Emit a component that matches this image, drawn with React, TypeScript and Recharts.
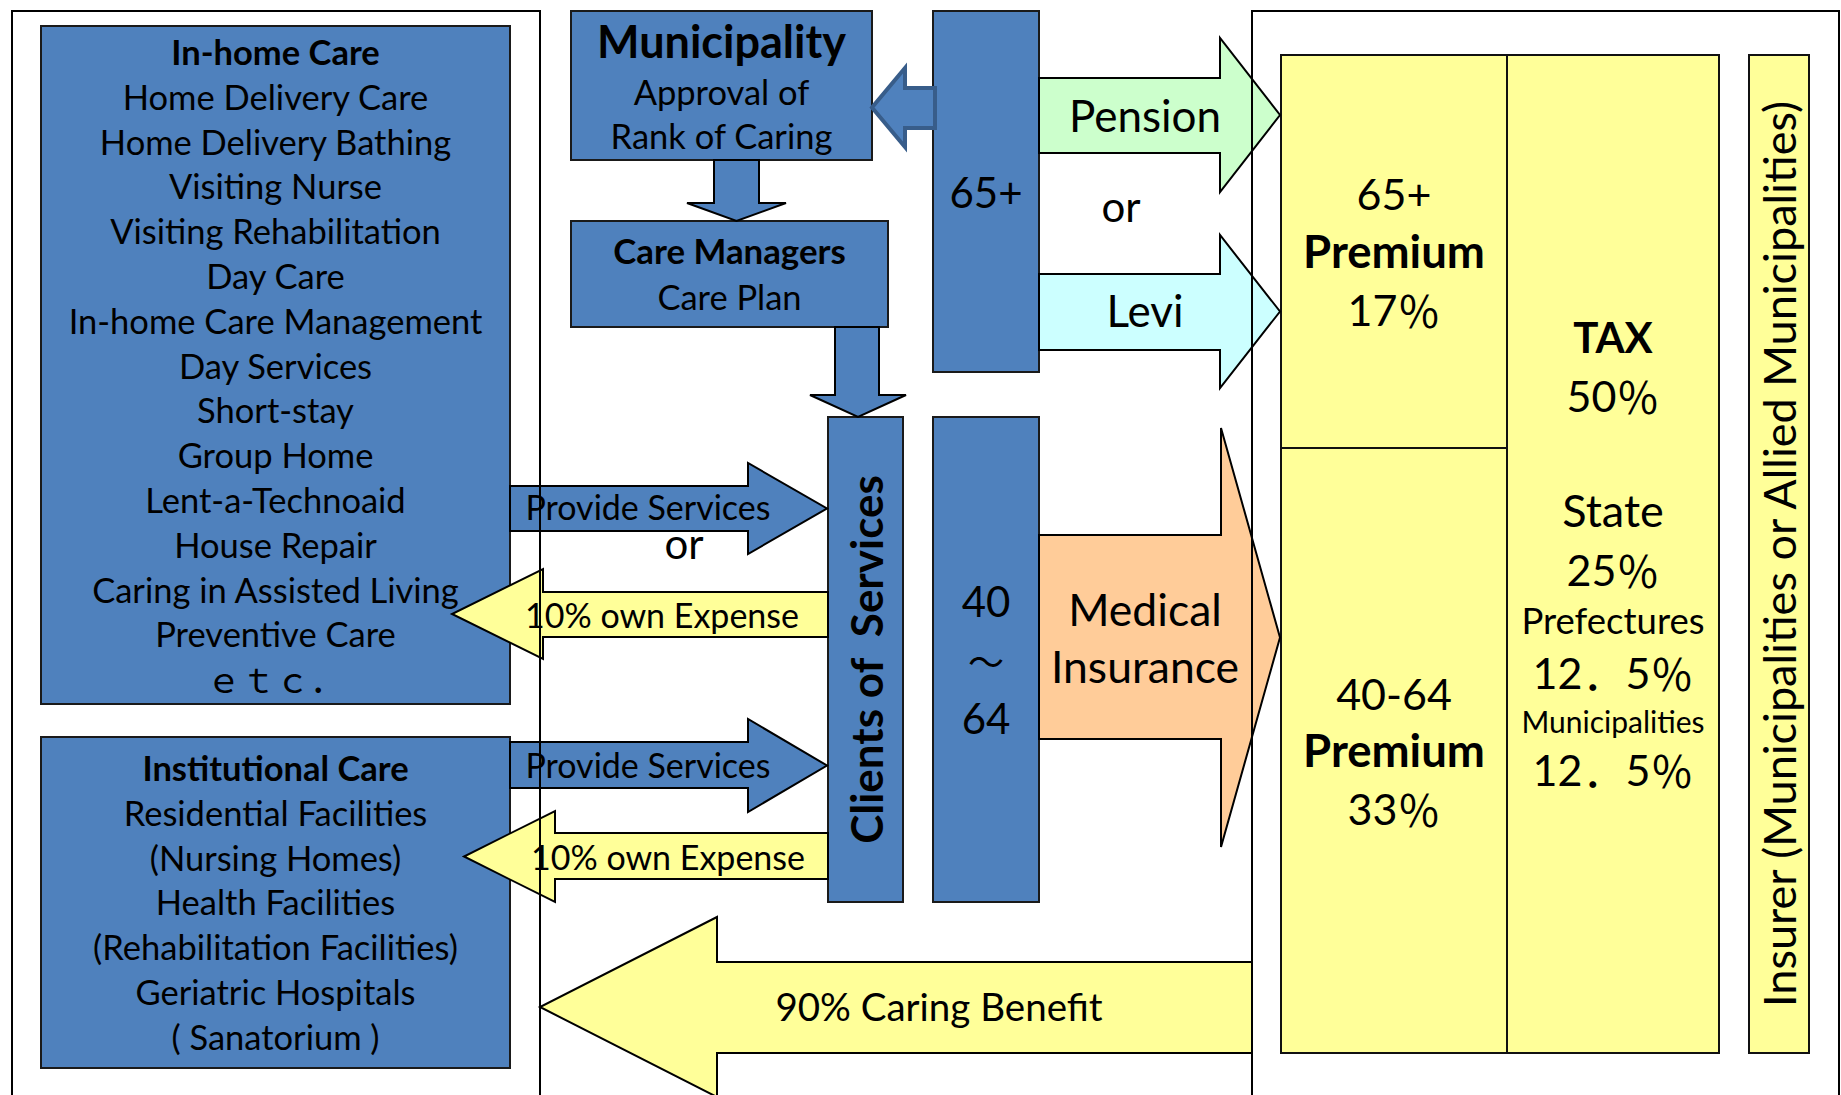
import React from 'react';
import { ComposedChart, XAxis, YAxis, ReferenceArea, ReferenceDot } from 'recharts';

const W = 1841;
const H = 1095;
const FONT = 'Lato, "Noto Sans CJK JP", sans-serif';
const CJK = '"Noto Sans CJK JP", sans-serif';

const BLUE = '#4F81BD';
const YELLOW = '#FFFF99';
const GREEN = '#CCFFCC';
const CYAN = '#CCFFFF';
const ORANGE = '#FFCC99';

// texts
const inHomeTitle = 'In-home Care';
const inHomeServices = [
  'Home Delivery Care',
  'Home Delivery Bathing',
  'Visiting Nurse',
  'Visiting Rehabilitation',
  'Day Care',
  'In-home Care Management',
  'Day Services',
  'Short-stay',
  'Group Home',
  'Lent-a-Technoaid',
  'House Repair',
  'Caring in Assisted Living',
  'Preventive Care',
  'ｅｔｃ．',
];
const institutionalTitle = 'Institutional Care';
const institutionalServices = [
  'Residential Facilities',
  '(Nursing Homes)',
  'Health Facilities',
  '(Rehabilitation Facilities)',
  'Geriatric Hospitals',
  '( Sanatorium )',
];
const municipalityLines = ['Municipality', 'Approval of', 'Rank of Caring'];
const careManagerLines = ['Care Managers', 'Care Plan'];
const ageGroups = ['65+', '40-64'];
const youngAgeLines = ['40', '～', '64'];
const contributionSources = ['Pension', 'Levi', 'Medical', 'Insurance'];
const premiumShares = ['17％', '33％'];
const taxLabels = ['TAX', 'State', 'Prefectures', 'Municipalities'];
const taxShares = ['50％', '25％', '12．5％', '12．5％'];
const serviceFlows = ['Provide Services', '10% own Expense'];
const benefitLabel = '90% Caring Benefit';
const clientsLabel = 'Clients of\u00A0 Services';
const insurerLabel = 'Insurer (Municipalities or Allied Municipalities)';

type Line = { t: string; y: number; size: number; bold?: boolean };
type Box = {
  x1: number; x2: number; y1: number; y2: number;
  fill: string; stroke?: string; lines: Line[]; vertical?: { t: string; size: number; bold?: boolean };
};

const listLines = (title: string, items: string[], start: number) =>
  [title, ...items].map((t, i) => ({ t, y: start + i * 44.8, size: 34.5, bold: i === 0 }));

const boxes: Box[] = [
  { x1: 41, x2: 510, y1: 26, y2: 704, fill: BLUE, lines: listLines(inHomeTitle, inHomeServices, 51) },
  { x1: 41, x2: 510, y1: 737, y2: 1068, fill: BLUE, lines: listLines(institutionalTitle, institutionalServices, 767) },
  {
    x1: 571, x2: 872, y1: 11, y2: 160, fill: BLUE,
    lines: [
      { t: municipalityLines[0], y: 41, size: 45, bold: true },
      { t: municipalityLines[1], y: 91, size: 34.5 },
      { t: municipalityLines[2], y: 135, size: 34.5 },
    ],
  },
  {
    x1: 571, x2: 888, y1: 221, y2: 327, fill: BLUE,
    lines: [
      { t: careManagerLines[0], y: 250, size: 34.8, bold: true },
      { t: careManagerLines[1], y: 296, size: 34.5 },
    ],
  },
  { x1: 933, x2: 1039, y1: 11, y2: 372, fill: BLUE, lines: [{ t: ageGroups[0], y: 192, size: 42 }] },
  { x1: 828, x2: 903, y1: 417, y2: 902, fill: BLUE, lines: [], vertical: { t: clientsLabel, size: 44, bold: true } },
  {
    x1: 933, x2: 1039, y1: 417, y2: 902, fill: BLUE,
    lines: [
      { t: youngAgeLines[0], y: 601, size: 42 },
      { t: youngAgeLines[1], y: 660, size: 36 },
      { t: youngAgeLines[2], y: 718, size: 42 },
    ],
  },
  {
    x1: 1281, x2: 1507, y1: 55, y2: 448, fill: YELLOW, stroke: '#111',
    lines: [
      { t: ageGroups[0], y: 193, size: 43 },
      { t: 'Premium', y: 250, size: 45.5, bold: true },
      { t: premiumShares[0], y: 309, size: 43 },
    ],
  },
  {
    x1: 1281, x2: 1507, y1: 448, y2: 1053, fill: YELLOW, stroke: '#111',
    lines: [
      { t: ageGroups[1], y: 693, size: 43 },
      { t: 'Premium', y: 749, size: 45.5, bold: true },
      { t: premiumShares[1], y: 808, size: 43 },
    ],
  },
  {
    x1: 1507, x2: 1719, y1: 55, y2: 1053, fill: YELLOW, stroke: '#111',
    lines: [
      { t: taxLabels[0], y: 337, size: 42, bold: true },
      { t: taxShares[0], y: 395, size: 43 },
      { t: taxLabels[1], y: 510, size: 45 },
      { t: taxShares[1], y: 569, size: 43 },
      { t: taxLabels[2], y: 620, size: 36.5 },
      { t: taxShares[2], y: 672, size: 43 },
      { t: taxLabels[3], y: 721, size: 30 },
      { t: taxShares[3], y: 769, size: 43 },
    ],
  },
  { x1: 1749, x2: 1809, y1: 55, y2: 1053, fill: YELLOW, stroke: '#111', lines: [], vertical: { t: insurerLabel, size: 45 } },
];

type Arrow = {
  dir: 'left' | 'right' | 'down';
  x1: number; x2: number; y1: number; y2: number;
  s1: number; s2: number; head: number;
  fill: string; stroke?: string; sw?: number;
  labels: { t: string; x: number; y: number; size: number }[];
};

const arrows: Arrow[] = [
  { dir: 'left', x1: 872, x2: 935, y1: 68, y2: 147, s1: 88, s2: 128, head: 905, fill: BLUE, stroke: '#385D8A', sw: 4, labels: [] },
  { dir: 'down', x1: 687, x2: 786, y1: 160, y2: 221, s1: 714, s2: 759, head: 203, fill: BLUE, labels: [] },
  { dir: 'down', x1: 810, x2: 906, y1: 327, y2: 417, s1: 835, s2: 879, head: 395, fill: BLUE, labels: [] },
  { dir: 'right', x1: 1039, x2: 1280, y1: 38, y2: 192, s1: 78, s2: 153, head: 1220, fill: GREEN, labels: [{ t: contributionSources[0], x: 1145, y: 115, size: 44 }] },
  { dir: 'right', x1: 1039, x2: 1280, y1: 235, y2: 388, s1: 274, s2: 350, head: 1220, fill: CYAN, labels: [{ t: contributionSources[1], x: 1145, y: 310, size: 44 }] },
  {
    dir: 'right', x1: 1039, x2: 1280, y1: 428, y2: 847, s1: 535, s2: 739, head: 1221, fill: ORANGE,
    labels: [
      { t: contributionSources[2], x: 1145, y: 608, size: 44.5 },
      { t: contributionSources[3], x: 1145, y: 665, size: 44.5 },
    ],
  },
  { dir: 'right', x1: 510, x2: 827, y1: 463, y2: 554, s1: 486, s2: 531, head: 748, fill: BLUE, labels: [{ t: serviceFlows[0], x: 648, y: 506, size: 34 }] },
  { dir: 'left', x1: 452, x2: 828, y1: 569, y2: 659, s1: 592, s2: 637, head: 543, fill: YELLOW, labels: [{ t: serviceFlows[1], x: 662, y: 614, size: 34 }] },
  { dir: 'right', x1: 510, x2: 827, y1: 719, y2: 812, s1: 742, s2: 788, head: 748, fill: BLUE, labels: [{ t: serviceFlows[0], x: 648, y: 764, size: 34 }] },
  { dir: 'left', x1: 464, x2: 828, y1: 811, y2: 902, s1: 833, s2: 879, head: 555, fill: YELLOW, labels: [{ t: serviceFlows[1], x: 668, y: 856, size: 34 }] },
  { dir: 'left', x1: 540, x2: 1252, y1: 917, y2: 1097, s1: 962, s2: 1053, head: 717, fill: YELLOW, labels: [{ t: benefitLabel, x: 939, y: 1006, size: 38.5 }] },
];

const orLabels = [
  { x: 1121, y: 206 },
  { x: 684, y: 543 },
];

const frames = [
  { x1: 12, x2: 540, y1: 11, y2: 1110 },
  { x1: 1252, x2: 1839, y1: 11, y2: 1110 },
];

const mapper = (b: { x1: number; x2: number; y1: number; y2: number }, p: any) => ({
  sx: (v: number) => p.x + ((v - b.x1) / (b.x2 - b.x1)) * p.width,
  sy: (v: number) => p.y + ((v - b.y1) / (b.y2 - b.y1)) * p.height,
});

// split full-width characters out so they use the CJK font
const runs = (s: string) => {
  const out: { t: string; wide: boolean }[] = [];
  for (const ch of s) {
    const wide = ch.charCodeAt(0) >= 0x3000;
    const last = out[out.length - 1];
    if (last && last.wide === wide) last.t += ch;
    else out.push({ t: ch, wide });
  }
  return out;
};

const Txt = ({ x, y, size, bold, children, rotate }: any) => (
  <text
    x={x}
    y={y}
    textAnchor="middle"
    dominantBaseline="central"
    fontFamily={FONT}
    fontSize={size}
    fontWeight={bold ? 700 : 400}
    fill="#000"
    style={{ whiteSpace: 'pre' }}
    transform={rotate ? `rotate(-90, ${x}, ${y})` : undefined}
  >
    {runs(String(children)).map((r, i) => (
      <tspan key={i} fontFamily={r.wide ? CJK : FONT}>{r.t}</tspan>
    ))}
  </text>
);

const boxShape = (b: Box) => (p: any) => {
  const { sy } = mapper(b, p);
  const cx = p.x + p.width / 2;
  const cy = p.y + p.height / 2;
  return (
    <g>
      <rect x={p.x} y={p.y} width={p.width} height={p.height} fill={b.fill} stroke={b.stroke || '#1a1a1a'} strokeWidth={2} />
      {b.lines.map((l, i) => (
        <Txt key={i} x={cx} y={sy(l.y)} size={l.size} bold={l.bold}>{l.t}</Txt>
      ))}
      {b.vertical && (
        <Txt x={cx} y={cy} size={b.vertical.size} bold={b.vertical.bold} rotate>{b.vertical.t}</Txt>
      )}
    </g>
  );
};

const arrowShape = (a: Arrow) => (p: any) => {
  const { sx, sy } = mapper(a, p);
  let pts: number[][] = [];
  if (a.dir === 'right') {
    const m = (a.y1 + a.y2) / 2;
    pts = [[a.x1, a.s1], [a.head, a.s1], [a.head, a.y1], [a.x2, m], [a.head, a.y2], [a.head, a.s2], [a.x1, a.s2]];
  } else if (a.dir === 'left') {
    const m = (a.y1 + a.y2) / 2;
    pts = [[a.x2, a.s1], [a.head, a.s1], [a.head, a.y1], [a.x1, m], [a.head, a.y2], [a.head, a.s2], [a.x2, a.s2]];
  } else {
    const m = (a.x1 + a.x2) / 2;
    pts = [[a.s1, a.y1], [a.s2, a.y1], [a.s2, a.head], [a.x2, a.head], [m, a.y2], [a.x1, a.head], [a.s1, a.head]];
  }
  const d = pts.map(([x, y]) => `${sx(x)},${sy(y)}`).join(' ');
  return (
    <g>
      <polygon points={d} fill={a.fill} stroke={a.stroke || '#000'} strokeWidth={a.sw || 2} strokeLinejoin="miter" />
      {a.labels.map((l, i) => (
        <Txt key={i} x={sx(l.x)} y={sy(l.y)} size={l.size}>{l.t}</Txt>
      ))}
    </g>
  );
};

const frameShape = (p: any) => (
  <rect x={p.x} y={p.y} width={p.width} height={p.height} fill="none" stroke="#000" strokeWidth={2} />
);

const orShape = (p: any) => <Txt x={p.cx} y={p.cy} size={42}>or</Txt>;

export default function App() {
  return (
    <div style={{ position: 'absolute', left: 0, top: 0, width: W, height: H, background: '#fff' }}>
      <ComposedChart width={W} height={H} margin={{ top: 0, right: 0, bottom: 0, left: 0 }}>
        <XAxis type="number" dataKey="x" domain={[0, W]} hide allowDataOverflow />
        <YAxis type="number" dataKey="y" domain={[0, H]} reversed hide allowDataOverflow />
        {orLabels.map((o, i) => (
          <ReferenceDot key={`or${i}`} x={o.x} y={o.y} r={0} ifOverflow="visible" shape={orShape} />
        ))}
        {boxes.map((b, i) => (
          <ReferenceArea key={`b${i}`} x1={b.x1} x2={b.x2} y1={b.y1} y2={b.y2} ifOverflow="visible" shape={boxShape(b)} />
        ))}
        {arrows.map((a, i) => (
          <ReferenceArea key={`a${i}`} x1={a.x1} x2={a.x2} y1={a.y1} y2={a.y2} ifOverflow="visible" shape={arrowShape(a)} />
        ))}
        {frames.map((f, i) => (
          <ReferenceArea key={`f${i}`} x1={f.x1} x2={f.x2} y1={f.y1} y2={f.y2} ifOverflow="visible" shape={frameShape} />
        ))}
      </ComposedChart>
    </div>
  );
}
